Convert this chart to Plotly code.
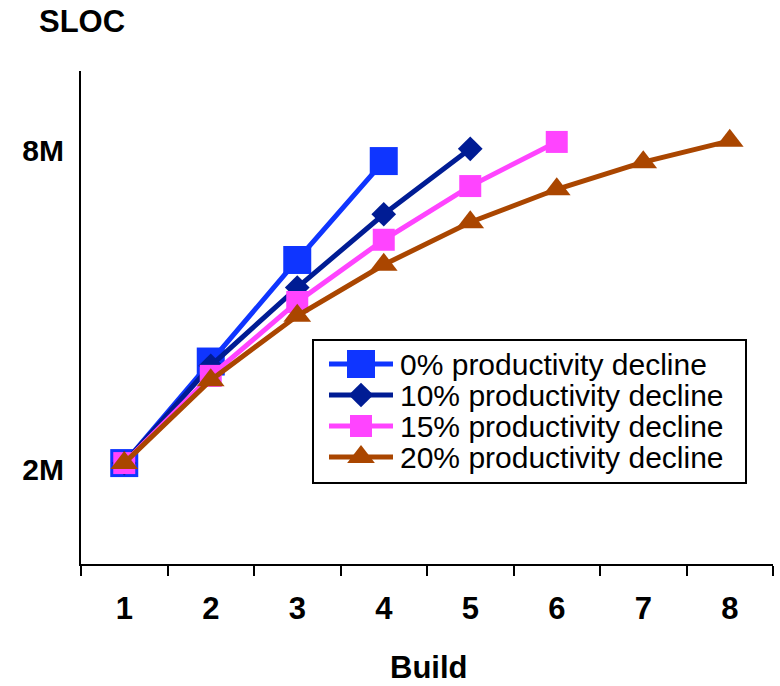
import plotly.graph_objects as go

# Builds on the x axis and SLOC (millions) per productivity-decline scenario
builds = ["1", "2", "3", "4", "5", "6", "7", "8"]
sloc_0pct = [2.13, 4.04, 5.95, 7.81]
sloc_10pct = [2.13, 3.96, 5.43, 6.81, 8.04]
sloc_15pct = [2.13, 3.77, 5.16, 6.33, 7.34, 8.17]
sloc_20pct = [2.13, 3.69, 4.90, 5.86, 6.66, 7.28, 7.79, 8.19]
series_names = [
    "0% productivity decline",
    "10% productivity decline",
    "15% productivity decline",
    "20% productivity decline",
]
y_tick_vals = [2, 8]
y_tick_text = ["2M", "8M"]

# Styling
W, H = 780, 686
L, R, T, B = 81, 7, 71, 122
FONT = "Liberation Sans, Arial, sans-serif"
styles = [
    dict(color="#0F35FF", symbol="square", size=28),
    dict(color="#001C94", symbol="diamond", size=19),
    dict(color="#FF44FF", symbol="square", size=22),
    dict(color="#AA4600", symbol="triangle-up", size=24),
]
series = [sloc_0pct, sloc_10pct, sloc_15pct, sloc_20pct]


def px_x(p):
    """Figure pixel column -> paper fraction."""
    return (p - L) / (W - L - R)


def px_y(p):
    """Figure pixel row -> paper fraction."""
    return (H - B - p) / (H - T - B)


fig = go.Figure()

for vals, name, st in zip(series, series_names, styles):
    fig.add_trace(go.Scatter(
        x=builds[:len(vals)], y=vals, name=name,
        mode="lines+markers",
        line=dict(color=st["color"], width=5),
        marker=dict(symbol=st["symbol"], size=st["size"], color=st["color"],
                    line=dict(width=0)),
        showlegend=False,
    ))

# Hand-built legend: box, sample line+marker and label per scenario
box = dict(x0=313, x1=746, y0=340, y1=483)
row_y = [364, 395, 426, 457]
key_x0, key_x1, key_mid, text_x = 329, 393, 361, 399

shapes = [dict(
    type="rect", xref="paper", yref="paper",
    x0=px_x(box["x0"]), x1=px_x(box["x1"]),
    y0=px_y(box["y1"]), y1=px_y(box["y0"]),
    line=dict(color="black", width=2), fillcolor="white", layer="below",
)]

annotations = []
for name, st, ry in zip(series_names, styles, row_y):
    fig.add_trace(go.Scatter(
        x=[px_x(key_x0), px_x(key_x1)], y=[px_y(ry), px_y(ry)],
        xaxis="x2", yaxis="y2", mode="lines",
        line=dict(color=st["color"], width=5),
        showlegend=False, hoverinfo="skip",
    ))
    fig.add_trace(go.Scatter(
        x=[px_x(key_mid)], y=[px_y(ry)],
        xaxis="x2", yaxis="y2", mode="markers",
        marker=dict(symbol=st["symbol"], size=st["size"], color=st["color"],
                    line=dict(width=0)),
        showlegend=False, hoverinfo="skip",
    ))
    annotations.append(dict(
        text=name, xref="paper", yref="paper",
        x=px_x(text_x), y=px_y(ry), xanchor="left", yanchor="middle",
        showarrow=False, borderpad=0,
        font=dict(family=FONT, size=30, color="black"),
    ))

annotations.append(dict(
    text="SLOC", xref="paper", yref="paper", x=px_x(82), y=px_y(22),
    xanchor="center", yanchor="middle", showarrow=False, borderpad=0,
    font=dict(family=FONT, size=31, color="black", weight="bold"),
))
annotations.append(dict(
    text="Build", xref="paper", yref="paper", x=px_x(429), y=px_y(686),
    xanchor="center", yanchor="bottom", showarrow=False, borderpad=0,
    font=dict(family=FONT, size=31, color="black", weight="bold"),
))

fig.update_layout(
    width=W, height=H,
    margin=dict(l=L, r=R, t=T, b=B, pad=0),
    paper_bgcolor="white", plot_bgcolor="white",
    showlegend=False,
    xaxis=dict(
        type="category", categoryorder="array", categoryarray=builds,
        range=[-0.5, 7.5], tickson="boundaries",
        ticks="outside", ticklen=10, tickwidth=2, tickcolor="black",
        showline=True, linewidth=2, linecolor="black",
        showgrid=False, zeroline=False, ticklabelstandoff=16,
        tickfont=dict(family=FONT, size=31, color="black", weight="bold"),
    ),
    yaxis=dict(
        range=[0.232, 9.504], tickmode="array",
        tickvals=y_tick_vals, ticktext=y_tick_text,
        ticks="", showline=True, linewidth=2, linecolor="black",
        showgrid=False, zeroline=False, ticklabelstandoff=9,
        tickfont=dict(family=FONT, size=30, color="black", weight="bold"),
    ),
    xaxis2=dict(domain=[0, 1], range=[0, 1], overlaying="x", visible=False,
                fixedrange=True),
    yaxis2=dict(domain=[0, 1], range=[0, 1], overlaying="y", visible=False,
                fixedrange=True),
    shapes=shapes,
    annotations=annotations,
)

fig.write_html("out.html")
